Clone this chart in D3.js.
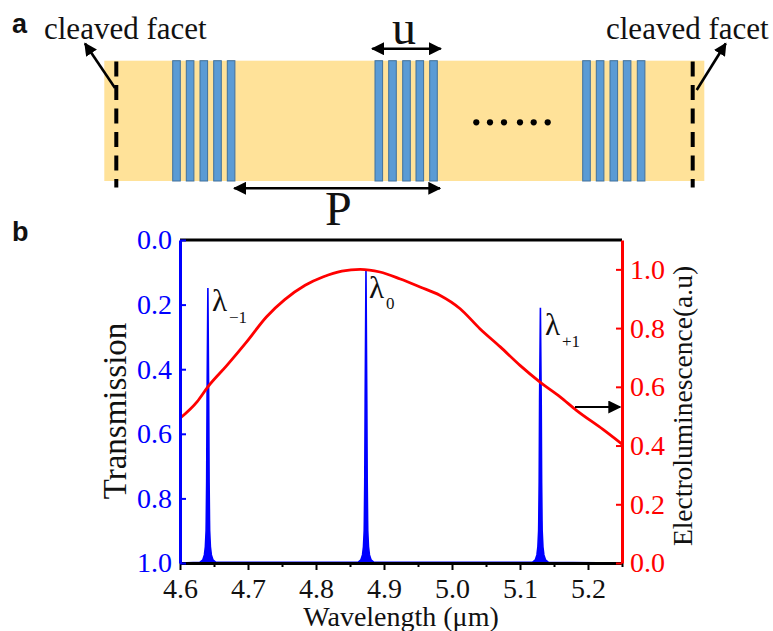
<!DOCTYPE html>
<html>
<head>
<meta charset="utf-8">
<script src="https://cdn.jsdelivr.net/npm/d3@7"></script>
<style>
body { margin: 0; background: #fff; }
svg text { font-family: "Liberation Serif", serif; }
</style>
</head>
<body>
<div id="graphsvg"></div>
<script>
// panel a, positions along the device (0 = left end of the ridge)
var gratingBars = [
	[68.4, 82, 95.7, 109.4, 123],
	[270.7, 284.4, 298.4, 311.7, 325.4],
	[478.4, 492, 505.7, 519, 533]
];
var dotPositions = [372, 385.7, 399.7, 415.7, 429.4, 443.4];
var facetPositions = [12, 588.4];

// panel b, electroluminescence curve
var elWave = [4.6, 4.625, 4.641, 4.669, 4.698, 4.727, 4.754, 4.784, 4.81, 4.838, 4.865, 4.894, 4.924, 4.953, 4.982, 5.012, 5.041, 5.071, 5.1, 5.129, 5.159, 5.183, 5.222, 5.25];
var elValue = [0.493, 0.549, 0.6, 0.673, 0.753, 0.838, 0.897, 0.946, 0.974, 0.994, 1.0, 0.991, 0.967, 0.94, 0.912, 0.866, 0.798, 0.736, 0.673, 0.617, 0.566, 0.52, 0.455, 0.405];

// panel b, transmission dips
var transWave = [
	4.6, 4.6292, 4.6336, 4.6359, 4.6373, 4.6384, 4.6386, 4.6392, 4.6398, 4.641, 4.6422, 4.6428, 4.6434, 4.6436, 4.6447, 4.6461, 4.6484, 4.6528,
	4.8617, 4.8661, 4.8684, 4.8698, 4.8709, 4.8711, 4.8717, 4.8723, 4.8735, 4.8747, 4.8753, 4.8759, 4.8761, 4.8772, 4.8786, 4.8809, 4.8853,
	5.1182, 5.1226, 5.1249, 5.1263, 5.1274, 5.1276, 5.1282, 5.1288, 5.13, 5.1312, 5.1318, 5.1324, 5.1326, 5.1337, 5.1351, 5.1374, 5.1418, 5.25
];
var transValue = [
	1.0, 0.998, 0.99, 0.975, 0.95, 0.9, 0.87, 0.75, 0.5, 0.149, 0.5, 0.75, 0.87, 0.9, 0.95, 0.975, 0.99, 0.998,
	0.998, 0.99, 0.975, 0.95, 0.9, 0.87, 0.75, 0.5, 0.09, 0.5, 0.75, 0.87, 0.9, 0.95, 0.975, 0.99, 0.998,
	0.998, 0.99, 0.975, 0.95, 0.9, 0.87, 0.75, 0.5, 0.21, 0.5, 0.75, 0.87, 0.9, 0.95, 0.975, 0.99, 0.998, 1.0
];

var xTicks = [4.6, 4.7, 4.8, 4.9, 5.0, 5.1, 5.2];
var xMinorTicks = [4.65, 4.75, 4.85, 4.95, 5.05, 5.15, 5.25];
var transTicks = [0, 0.2, 0.4, 0.6, 0.8, 1.0];
var elTicks = [0, 0.2, 0.4, 0.6, 0.8, 1.0];

var width = 773;
var height = 631;

var svg = d3
	.select("#graphsvg")
	.append("svg")
	.attr("width", width)
	.attr("height", height)
	.style("display", "block");

var defs = svg.append("defs");
defs.append("marker")
	.attr("id", "head")
	.attr("viewBox", "0 0 10 10")
	.attr("refX", 9)
	.attr("refY", 5)
	.attr("markerUnits", "userSpaceOnUse")
	.attr("markerWidth", 13)
	.attr("markerHeight", 13)
	.attr("orient", "auto-start-reverse")
	.append("path")
	.attr("d", "M0,0 L10,5 L0,10 Z")
	.attr("fill", "black");

//-----------------------------------------------------------------------------------------
// panel a
var devX = d3.scaleLinear().domain([0, 600]).range([104.3, 704.3]);
var ridgeTop = 60.7;
var ridgeBottom = 181;

svg.append("rect")
	.attr("x", devX(0))
	.attr("y", ridgeTop)
	.attr("width", devX(600) - devX(0))
	.attr("height", ridgeBottom - ridgeTop)
	.style("fill", "#ffe299");

svg.append("g")
	.selectAll("rect")
	.data(d3.merge(gratingBars))
	.join("rect")
	.attr("x", function (d) { return devX(d); })
	.attr("y", ridgeTop)
	.attr("width", 7.6)
	.attr("height", ridgeBottom - ridgeTop)
	.style("fill", "#5b9bd5")
	.attr("stroke", "#41719c")
	.style("stroke-width", 1);

svg.append("g")
	.selectAll("line")
	.data(facetPositions)
	.join("line")
	.attr("x1", function (d) { return devX(d); })
	.attr("x2", function (d) { return devX(d); })
	.attr("y1", 61.5)
	.attr("y2", 187.5)
	.attr("stroke", "black")
	.style("stroke-width", 4)
	.style("stroke-dasharray", "15 8.5");

svg.append("g")
	.selectAll("circle")
	.data(dotPositions)
	.join("circle")
	.attr("cx", function (d) { return devX(d); })
	.attr("cy", 122.3)
	.attr("r", 3.1)
	.style("fill", "black");

function arrow(x1, y1, x2, y2, sw, both) {
	var a = svg.append("line")
		.attr("x1", x1)
		.attr("y1", y1)
		.attr("x2", x2)
		.attr("y2", y2)
		.attr("stroke", "black")
		.style("stroke-width", sw)
		.attr("marker-end", "url(#head)");
	if (both) a.attr("marker-start", "url(#head)");
}

arrow(115, 88, 85, 43.5, 2.6);
arrow(696.7, 90, 725.7, 43.5, 2.6);
arrow(372.3, 48.7, 440.7, 48.7, 2.6, true);
arrow(234.3, 188.3, 440, 188.3, 2.6, true);

function label(txt, x, y, size, anchor) {
	return svg.append("text")
		.text(txt)
		.attr("x", x)
		.attr("y", y)
		.attr("text-anchor", anchor || "start")
		.style("font-size", size + "px")
		.style("fill", "#111");
}

label("cleaved facet", 44, 39, 31);
label("cleaved facet", 606, 39, 31);
label("u", 392, 44, 48);
label("P", 325, 225, 48);
label("a", 12, 33, 27).style("font-family", "'Liberation Sans'").style("font-weight", "bold");
label("b", 12, 241, 27).style("font-family", "'Liberation Sans'").style("font-weight", "bold");

//-----------------------------------------------------------------------------------------
// panel b
var x = d3.scaleLinear().domain([4.6, 5.25]).range([180, 622]);
var yTrans = d3.scaleLinear().domain([0, 1]).range([240, 563]);
var yEl = d3.scaleLinear().domain([0, 1.1]).range([563, 240]);

var transLine = d3.line()
	.x(function (d, i) { return x(transWave[i]); })
	.y(function (d) { return yTrans(d); });

svg.append("path")
	.attr("d", transLine(transValue))
	.attr("fill", "#0000ff")
	.attr("stroke", "#0000ff")
	.style("stroke-width", 1.6);

var elLine = d3.line()
	.curve(d3.curveMonotoneX)
	.x(function (d, i) { return x(elWave[i]); })
	.y(function (d) { return yEl(d); });

svg.append("path")
	.attr("d", elLine(elValue))
	.attr("fill", "none")
	.attr("stroke", "#ff0000")
	.style("stroke-width", 2.8);

// top border
svg.append("line")
	.attr("x1", x.range()[0])
	.attr("x2", x.range()[1])
	.attr("y1", 240)
	.attr("y2", 240)
	.attr("stroke", "black")
	.style("stroke-width", 2.8);

var fmt = d3.format(".1f");

var bottomAxis = svg.append("g")
	.attr("transform", "translate(0,563)")
	.call(d3.axisBottom(x).tickValues(xTicks).tickFormat(fmt).tickSizeInner(7).tickSizeOuter(0).tickPadding(8));
bottomAxis.selectAll("text").style("font-size", "28px").style("fill", "#111");
bottomAxis.select(".domain").attr("stroke", "black").style("stroke-width", 2.8);
bottomAxis.selectAll(".tick line").attr("stroke", "black").style("stroke-width", 2);

var minorAxis = svg.append("g")
	.attr("transform", "translate(0,563)")
	.call(d3.axisBottom(x).tickValues(xMinorTicks).tickFormat("").tickSizeInner(4).tickSizeOuter(0));
minorAxis.select(".domain").remove();
minorAxis.selectAll(".tick line").attr("stroke", "black").style("stroke-width", 2);

var leftAxis = svg.append("g")
	.attr("transform", "translate(180,0)")
	.call(d3.axisLeft(yTrans).tickValues(transTicks).tickFormat(fmt).tickSizeInner(-6).tickSizeOuter(0).tickPadding(8));
leftAxis.selectAll("text").style("font-size", "28px").style("fill", "#0000ff");
leftAxis.select(".domain").attr("stroke", "#0000ff").style("stroke-width", 3);
leftAxis.selectAll(".tick line").attr("stroke", "#0000ff").style("stroke-width", 2);

var rightAxis = svg.append("g")
	.attr("transform", "translate(622,0)")
	.call(d3.axisRight(yEl).tickValues(elTicks).tickFormat(fmt).tickSizeInner(-6).tickSizeOuter(0).tickPadding(8));
rightAxis.selectAll("text").style("font-size", "28px").style("fill", "#ff0000");
rightAxis.select(".domain").attr("stroke", "#ff0000").style("stroke-width", 3);
rightAxis.selectAll(".tick line").attr("stroke", "#ff0000").style("stroke-width", 2);

label("Wavelength (μm)", 401, 626, 28, "middle");

svg.append("text")
	.text("Transmission")
	.attr("transform", "translate(126,411) rotate(-90)")
	.attr("text-anchor", "middle")
	.style("font-size", "33px")
	.style("fill", "#111");

svg.append("text")
	.text("Electroluminescence(a.u)")
	.attr("transform", "translate(692,406) rotate(-90)")
	.attr("text-anchor", "middle")
	.style("font-size", "27.5px")
	.style("fill", "#111");

arrow(575, 407, 620, 407, 2);

label("λ", 212, 311, 31);
label("−1", 229, 323, 17);
label("λ", 369, 298, 31);
label("0", 386, 309, 17);
label("λ", 545, 335, 31);
label("+1", 562, 347, 17);
</script>
</body>
</html>
